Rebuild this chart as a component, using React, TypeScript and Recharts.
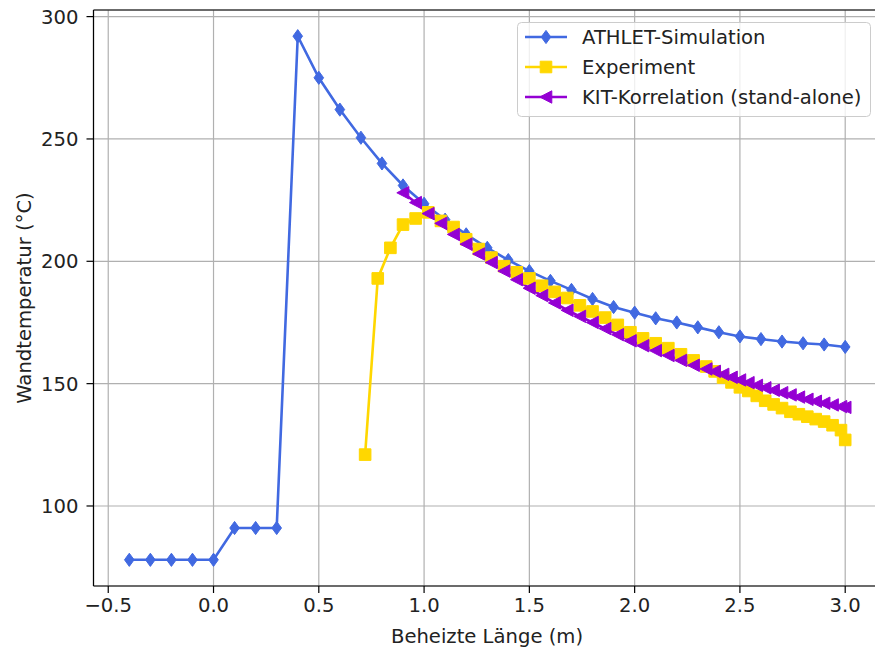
import React from 'react';
import { LineChart, Line, XAxis, YAxis, CartesianGrid, Legend, ReferenceLine, Label } from 'recharts';

const athletX = [-0.4, -0.3, -0.2, -0.1, 0.0, 0.1, 0.2, 0.3, 0.4, 0.5, 0.6, 0.7, 0.8, 0.9, 1.0, 1.1, 1.2, 1.3, 1.4, 1.5, 1.6, 1.7, 1.8, 1.9, 2.0, 2.1, 2.2, 2.3, 2.4, 2.5, 2.6, 2.7, 2.8, 2.9, 3.0];
const athletY = [78, 78, 78, 78, 78, 91, 91, 91, 292, 275, 262, 250.5, 240, 231, 223.5, 217, 211, 205.5, 200.5, 196, 192, 188.3, 184.6, 181.3, 179, 176.7, 175, 173, 171, 169.3, 168.2, 167.2, 166.5, 166, 165];

const expX = [0.72, 0.78, 0.84, 0.90, 0.96, 1.02, 1.08, 1.14, 1.20, 1.26, 1.32, 1.38, 1.44, 1.50, 1.56, 1.62, 1.68, 1.74, 1.80, 1.86, 1.92, 1.98, 2.04, 2.10, 2.16, 2.22, 2.28, 2.34, 2.38, 2.42, 2.46, 2.50, 2.54, 2.58, 2.62, 2.66, 2.70, 2.74, 2.78, 2.82, 2.86, 2.90, 2.94, 2.98, 3.00];
const expY = [121, 193, 205.5, 215, 217.5, 220, 216.5, 214, 209, 205, 201.5, 198, 195.5, 193, 190, 187.5, 185, 182, 179.5, 177, 174, 171, 168.5, 166.5, 164.5, 162, 159.5, 157, 155, 152.5, 150.5, 148.5, 147, 145, 143, 141.5, 140, 138.5, 137.5, 136.5, 135.5, 134.5, 133, 131, 127];

const kitX = [0.90, 0.96, 1.02, 1.08, 1.14, 1.20, 1.26, 1.32, 1.38, 1.44, 1.50, 1.56, 1.62, 1.68, 1.74, 1.80, 1.86, 1.92, 1.98, 2.04, 2.10, 2.16, 2.22, 2.28, 2.34, 2.38, 2.42, 2.46, 2.50, 2.54, 2.58, 2.62, 2.66, 2.70, 2.74, 2.78, 2.82, 2.86, 2.90, 2.94, 2.98, 3.00];
const kitY = [228, 224, 219.5, 215.5, 211, 207, 203, 199.5, 196, 192.5, 189, 186, 183, 180, 177.5, 175, 172.5, 170, 167.5, 165.5, 163.5, 161.5, 159.5, 157.5, 156, 155, 153.8, 152.6, 151.5, 150.4, 149.3, 148.3, 147.3, 146.3, 145.4, 144.5, 143.6, 142.8, 142, 141.3, 140.6, 140.3];

const xTicks = [-0.5, 0.0, 0.5, 1.0, 1.5, 2.0, 2.5, 3.0];
const yTicks = [100, 150, 200, 250, 300];

const seriesNames = ['ATHLET-Simulation', 'Experiment', 'KIT-Korrelation (stand-alone)'];
const BLUE = '#4169E1';
const GOLD = '#FFD700';
const VIOLET = '#9400D3';

const athletData = athletX.map((x, i) => ({ x, y: athletY[i] }));
const expData = expX.map((x, i) => ({ x, y: expY[i] }));
const kitData = kitX.map((x, i) => ({ x, y: kitY[i] }));

const FONT = 'DejaVu Sans, sans-serif';
const FS = 19.6;

function markerPath(shape: string, cx: number, cy: number) {
  if (shape === 'diamond') return `M${cx},${cy - 6.6} L${cx + 4.8},${cy} L${cx},${cy + 6.6} L${cx - 4.8},${cy} Z`;
  if (shape === 'square') return `M${cx - 5.8},${cy - 5.8} L${cx + 5.8},${cy - 5.8} L${cx + 5.8},${cy + 5.8} L${cx - 5.8},${cy + 5.8} Z`;
  return `M${cx - 6.2},${cy} L${cx + 5.8},${cy - 6.2} L${cx + 5.8},${cy + 6.2} Z`;
}

const makeDot = (shape: string, color: string) => (props: any) => {
  const { cx, cy, index } = props;
  if (cx == null || cy == null) return <g key={`d${index}`} />;
  return <path key={`d${index}`} d={markerPath(shape, cx, cy)} fill={color} stroke={color} strokeWidth={1} />;
};

const fmtX = (v: number) => (v < 0 ? '\u2212' + Math.abs(v).toFixed(1) : v.toFixed(1));

const LegendBox = () => {
  const rows = [
    { name: seriesNames[0], color: BLUE, shape: 'diamond' },
    { name: seriesNames[1], color: GOLD, shape: 'square' },
    { name: seriesNames[2], color: VIOLET, shape: 'triangle' },
  ];
  return (
    <svg width={354} height={95} style={{ display: 'block' }}>
      <rect x={0.5} y={0.5} width={353} height={94} rx={4} ry={4} fill="rgba(255,255,255,0.8)" stroke="#cccccc" strokeWidth={1} />
      {rows.map((r, i) => {
        const y = 15 + i * 30;
        return (
          <g key={r.name}>
            <line x1={8} x2={50} y1={y} y2={y} stroke={r.color} strokeWidth={2.6} />
            <path d={markerPath(r.shape, 29, y)} fill={r.color} stroke={r.color} strokeWidth={1} />
            <text x={65} y={y} dominantBaseline="central" fontFamily={FONT} fontSize={FS} fill="#222">{r.name}</text>
          </g>
        );
      })}
    </svg>
  );
};

export default function App() {
  return (
    <div style={{ position: 'absolute', left: 0, top: 0, width: 875, height: 655, overflow: 'hidden', background: '#fff' }}>
      <LineChart width={881} height={655} margin={{ top: 10, right: 0, bottom: 0, left: 0 }}>
        <CartesianGrid stroke="#b0b0b0" strokeWidth={1.2} />
        <XAxis
          dataKey="x"
          type="number"
          domain={[-0.57, 3.17]}
          ticks={xTicks}
          tickFormatter={fmtX}
          height={69}
          allowDataOverflow
          interval={0}
          tickSize={7}
          tickMargin={5}
          stroke="#000"
          axisLine={{ stroke: '#000', strokeWidth: 1.2 }}
          tickLine={{ stroke: '#000', strokeWidth: 1.2 }}
          tick={{ fontSize: FS, fill: '#222', fontFamily: FONT }}
        >
          <Label content={() => (
            <text x={487} y={636} textAnchor="middle" dominantBaseline="central" fontFamily={FONT} fontSize={FS} fill="#222">Beheizte Länge (m)</text>
          )} />
        </XAxis>
        <YAxis
          type="number"
          domain={[67.3, 302.7]}
          ticks={yTicks}
          width={93.5}
          allowDataOverflow
          interval={0}
          tickSize={7}
          tickMargin={8}
          stroke="#000"
          axisLine={{ stroke: '#000', strokeWidth: 1.2 }}
          tickLine={{ stroke: '#000', strokeWidth: 1.2 }}
          tick={{ fontSize: FS, fill: '#222', fontFamily: FONT }}
        >
          <Label content={() => (
            <text x={24} y={298} transform="rotate(-90 24 298)" textAnchor="middle" dominantBaseline="central" fontFamily={FONT} fontSize={FS} fill="#222">Wandtemperatur (°C)</text>
          )} />
        </YAxis>
        <ReferenceLine y={302.7} stroke="#000" strokeWidth={1.2} ifOverflow="visible" />
        <Line data={athletData} dataKey="y" name={seriesNames[0]} type="linear" stroke={BLUE} strokeWidth={2.6} dot={makeDot('diamond', BLUE)} activeDot={false} isAnimationActive={false} />
        <Line data={expData} dataKey="y" name={seriesNames[1]} type="linear" stroke={GOLD} strokeWidth={2.6} dot={makeDot('square', GOLD)} activeDot={false} isAnimationActive={false} />
        <Line data={kitData} dataKey="y" name={seriesNames[2]} type="linear" stroke={VIOLET} strokeWidth={2.6} dot={makeDot('triangle', VIOLET)} activeDot={false} isAnimationActive={false} />
        <Legend
          layout="vertical"
          align="center"
          verticalAlign="middle"
          content={() => <LegendBox />}
          wrapperStyle={{ position: 'absolute', left: 517, top: 22, width: 354, height: 95 }}
        />
      </LineChart>
    </div>
  );
}
